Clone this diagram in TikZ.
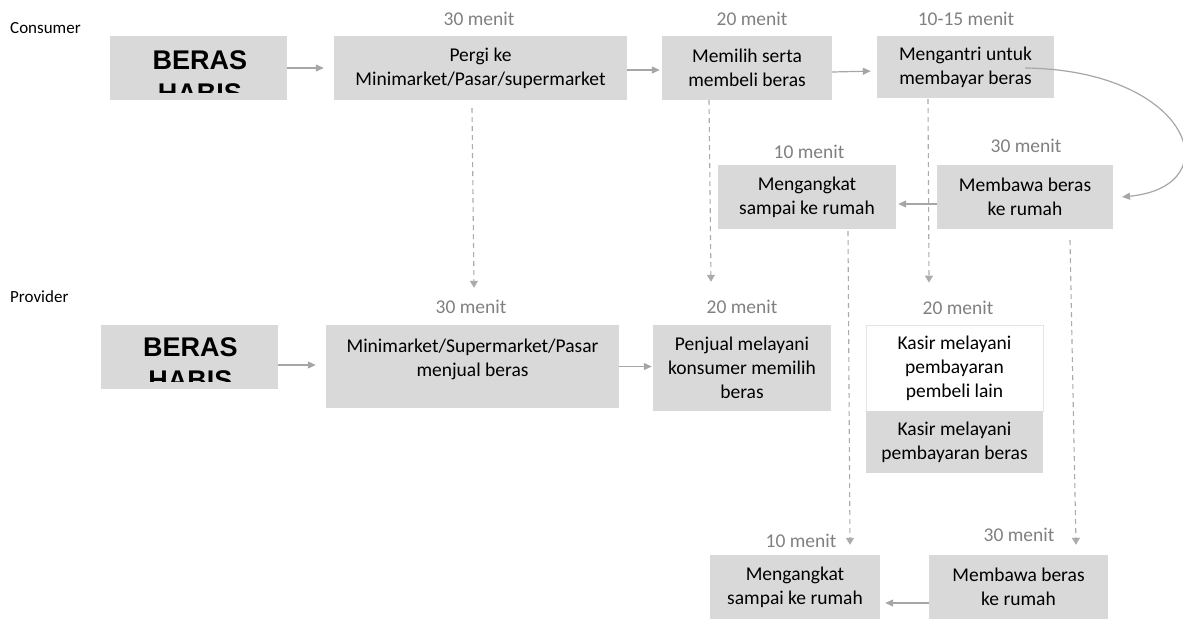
\documentclass[tikz,border=0pt]{standalone}
\usepackage{fontspec}
\setmainfont{Carlito}
\newfontfamily\arialfont{Liberation Sans}
\usetikzlibrary{arrows.meta}
\definecolor{boxgray}{HTML}{D9D9D9}
\definecolor{arrgray}{HTML}{A6A6A6}
\definecolor{lblgray}{HTML}{808080}
\definecolor{dashgray}{HTML}{ABABAB}
\definecolor{edgegray}{HTML}{E4E4E4}
\begin{document}
\begin{tikzpicture}[x=1pt,y=-1pt,
  box/.style={fill=boxgray, draw=none, inner sep=0pt, align=center, text=black,
    font=\fontsize{19.5}{24}\selectfont},
  whitebox/.style={box, fill=white, draw=edgegray, line width=0.8pt},
  lbl/.style={text=lblgray, font=\fontsize{19.5}{24}\selectfont, inner sep=0pt},
  side/.style={text=black, font=\fontsize{17}{20}\selectfont, inner sep=0pt, anchor=west},
  arr/.style={draw=arrgray, line width=1.2pt, -{Triangle[length=8pt,width=7pt]}},
  darr/.style={draw=dashgray, line width=1.1pt, dash pattern=on 5pt off 4pt,
    -{Triangle[length=7pt,width=8pt]}},
  beras/.style={font=\arialfont\bfseries\fontsize{27}{33}\selectfont, inner sep=0pt, anchor=base}]
\useasboundingbox (0,0) rectangle (1183,624);

% side labels
\node[side] (cons) at (10,28) {Consumer};
\node[side] (prov) at (10,297) {Provider};

% ---------- consumer row ----------
\node[box, minimum width=177pt, minimum height=64pt] (c0) at (198.5,68) {};
\begin{scope}
  \clip (110,36) rectangle (287,92.5);
  \node[beras] (c0a) at (200,69) {BERAS};
  \node[beras] (c0b) at (200,102) {HABIS};
\end{scope}
\node[box, minimum width=293pt, minimum height=64pt] (c1) at (480.5,68) {Pergi ke\\Minimarket/Pasar/supermarket};
\node[box, minimum width=170pt, minimum height=64pt] (c2) at (747,68) {Memilih serta\\membeli beras};
\node[box, minimum width=177pt, minimum height=62pt] (c3) at (965.5,67) {Mengantri untuk\\membayar beras};
\node[box, minimum width=178pt, minimum height=64pt] (c4) at (807,197) {Mengangkat\\sampai ke rumah};
\node[box, minimum width=176pt, minimum height=64pt] (c5) at (1025,197) {Membawa beras\\ke rumah};

\node[lbl] (l1) at (479,19) {30 menit};
\node[lbl] (l2) at (752,19) {20 menit};
\node[lbl] (l3) at (966,19) {10-15 menit};
\node[lbl] (l4) at (809,152) {10 menit};
\node[lbl] (l5) at (1026,146) {30 menit};

% ---------- provider row ----------
\node[box, minimum width=177pt, minimum height=64pt] (p0) at (189.5,357) {};
\begin{scope}
  \clip (101,325) rectangle (278,381);
  \node[beras] (p0a) at (190.5,356) {BERAS};
  \node[beras] (p0b) at (190.5,389) {HABIS};
\end{scope}
\node[box, minimum width=293pt, minimum height=83pt] (p1) at (472.5,366.5) {};
\node[box, fill=none] (p1t) at (472.5,359) {Minimarket/Supermarket/Pasar\\menjual beras};
\node[box, minimum width=178pt, minimum height=86pt] (p2) at (742,368) {Penjual melayani\\konsumer memilih\\beras};
\node[whitebox, minimum width=177pt, minimum height=86pt] (p3) at (954.5,368) {Kasir melayani\\pembayaran\\pembeli lain};
\node[box, minimum width=177pt, minimum height=62pt] (p3b) at (954.5,442) {Kasir melayani\\pembayaran beras};
\node[box, minimum width=170pt, minimum height=64pt] (p4) at (795,587) {Mengangkat\\sampai ke rumah};
\node[box, minimum width=179pt, minimum height=64pt] (p5) at (1018.5,587) {Membawa beras\\ke rumah};

\node[lbl] (lp1) at (471,307) {30 menit};
\node[lbl] (lp2) at (742,307) {20 menit};
\node[lbl] (lp3) at (958,308) {20 menit};
\node[lbl] (lp4) at (801,541) {10 menit};
\node[lbl] (lp5) at (1019,535) {30 menit};

% ---------- solid connectors ----------
\draw[arr, shorten >=10pt] (c0.east) -- (c1.west);
\draw[arr, shorten >=2pt] ([yshift=-2pt]c1.east) -- ([yshift=-2pt]c2.west);
\draw[arr, shorten >=6pt] ([yshift=-4pt]c2.east) -- ([yshift=-4pt]c3.west);
\draw[arr, shorten >=2pt] ([yshift=-7pt]c5.west) -- ([yshift=-7pt]c4.east);
\draw[arr, shorten >=10pt] ([yshift=-8pt]p0.east) -- ([yshift=-8pt]p1.west |- p0.east);
\draw[arr, shorten >=1pt] (p1.east) -- (p1.east -| p2.west);
\draw[arr, shorten >=5pt] ([yshift=-16pt]p5.west) -- ([yshift=-16pt]p4.east);

% curved connector
\coordinate (cs) at (1025,68);
\coordinate (ce) at (1122,197);
\draw[arr] (cs) .. controls (1190,70) and (1232,186) .. (ce);

% ---------- dashed connectors ----------
\draw[darr] ([xshift=-8.5pt,yshift=-8pt]c1.south) -- ([xshift=1.5pt,yshift=37pt]p1.north);
\draw[darr] ([xshift=-38pt]c2.south) -- ([xshift=-31pt,yshift=43pt]p2.north);
\draw[darr] ([xshift=-37.5pt,yshift=-1pt]c3.south) -- ([xshift=-25.5pt,yshift=42pt]p3.north);
\draw[darr] ([xshift=41pt,yshift=-2pt]c4.south) -- ([xshift=55pt,yshift=10pt]p4.north);
\draw[darr] ([xshift=45pt,yshift=-11pt]c5.south) -- ([xshift=57.5pt,yshift=10pt]p5.north);
\end{tikzpicture}
\end{document}
